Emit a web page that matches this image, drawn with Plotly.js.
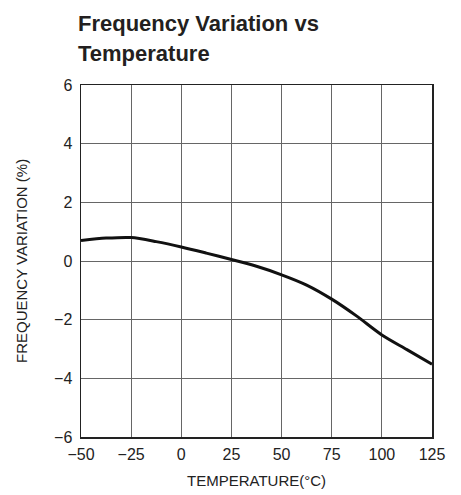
<!DOCTYPE html>
<html>
<head>
<meta charset="utf-8">
<script src="https://cdn.plot.ly/plotly-3.0.1.min.js"></script>
<style>html,body{margin:0;padding:0;background:#fff;}#chart{width:461px;height:495px;}</style>
</head>
<body>
<div id="chart"></div>
<script>
const temperature = [-50, -37.5, -25, -12.5, 0, 12.5, 25, 37.5, 50, 62.5, 75, 87.5, 100, 112.5, 125];
const freqVariation = [0.70, 0.78, 0.80, 0.66, 0.48, 0.27, 0.05, -0.18, -0.47, -0.82, -1.30, -1.88, -2.52, -3.02, -3.52];
const xTicks = [-50, -25, 0, 25, 50, 75, 100, 125];
const xTickText = ['\u221250', '\u221225', '0', '25', '50', '75', '100', '125'];
const yTicks = [-6, -4, -2, 0, 2, 4, 6];
const yTickText = ['\u22126', '\u22124', '\u22122', '0', '2', '4', '6'];
const titleLines = ['Frequency Variation vs', 'Temperature'];

const FONT = '"Liberation Sans", Arial, sans-serif';
const PLOT_TOP = 85, PLOT_BOTTOM = 437, PLOT_LEFT = 81, PLOT_W = 351, PLOT_H = 352;
const py = p => (PLOT_BOTTOM - p) / PLOT_H;
const px = p => (p - PLOT_LEFT) / PLOT_W;

const trace = {
  x: temperature, y: freqVariation, type: 'scatter', mode: 'lines',
  line: {color: '#111', width: 3, shape: 'spline', smoothing: 0.8},
  hoverinfo: 'skip'
};

const axisCommon = {
  showgrid: true, gridcolor: '#666', gridwidth: 1,
  zeroline: false, showline: true, linecolor: '#222', linewidth: 1.5, mirror: true,
  ticks: '', ticklen: 0, tickfont: {family: FONT, size: 16, color: '#222'},
  fixedrange: true
};

const layout = {
  width: 461, height: 495,
  margin: {l: 81, r: 29, t: 85, b: 58},
  paper_bgcolor: '#fff', plot_bgcolor: '#fff',
  showlegend: false,
  font: {family: FONT, color: '#222', size: 15},
  xaxis: Object.assign({range: [-50, 125], tickvals: xTicks, ticktext: xTickText, ticklabelstandoff: 2}, axisCommon),
  yaxis: Object.assign({range: [-6, 6], tickvals: yTicks, ticktext: yTickText, ticklabelstandoff: 4}, axisCommon),
  annotations: [
    {text: '<b>' + titleLines[0] + '</b>', xref: 'paper', yref: 'paper', x: px(76), y: py(24),
     xanchor: 'left', yanchor: 'middle', showarrow: false,
     font: {family: FONT, size: 22, color: '#231f20'}},
    {text: '<b>' + titleLines[1] + '</b>', xref: 'paper', yref: 'paper', x: px(76), y: py(54),
     xanchor: 'left', yanchor: 'middle', showarrow: false,
     font: {family: FONT, size: 22, color: '#231f20'}},
    {text: 'TEMPERATURE(\u00b0C)', xref: 'paper', yref: 'paper', x: 0.5, y: py(480),
     xanchor: 'center', yanchor: 'middle', showarrow: false,
     font: {family: FONT, size: 15, color: '#222'}},
    {text: 'FREQUENCY VARIATION (%)', xref: 'paper', yref: 'paper', x: px(21), y: 0.5,
     xanchor: 'center', yanchor: 'middle', textangle: -90, showarrow: false,
     font: {family: FONT, size: 15, color: '#222'}}
  ]
};

Plotly.newPlot('chart', [trace], layout, {staticPlot: true, displayModeBar: false});
</script>
</body>
</html>
